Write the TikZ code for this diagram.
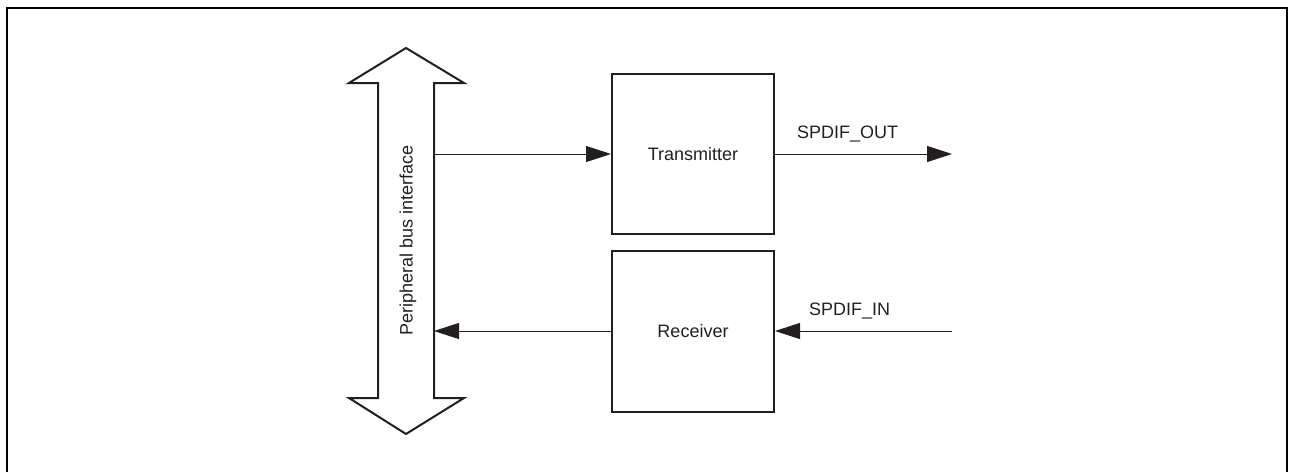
\documentclass[tikz,border=0pt]{standalone}
\usepackage{fontspec}
\setmainfont{Liberation Sans}
\usetikzlibrary{arrows.meta}
\definecolor{ink}{HTML}{231F20}
\begin{document}
\begin{tikzpicture}[x=1pt,y=-1pt,
  every node/.style={font=\fontsize{18}{21}\selectfont, text=ink},
  blockbox/.style={draw=ink, line width=2pt, minimum width=162pt, minimum height=160pt, inner sep=0pt},
  wire/.style={draw=ink, line width=1pt},
  tip/.style={-{Triangle[length=25pt,width=16pt]}},
  frameline/.style={draw=black, line width=2pt},
  busline/.style={draw=ink, line width=2pt, line join=miter}]
\useasboundingbox (0,0) rectangle (1289,472);
% frame
\draw[frameline] (7,472) -- (7,7.5) -- (1287,7.5) -- (1287,472);
% bus arrow
\draw[busline] (406,48) -- (464,83) -- (434,83) -- (434,398) -- (464,398) -- (406,434)
  -- (349,398) -- (378,398) -- (378,83) -- (349,83) -- cycle;
\node[rotate=90] (bus) at (408,240.5) {Peripheral bus interface};
\coordinate (busTx) at (434,154);
\coordinate (busRx) at (434,331);
% blocks
\node[blockbox] (tx) at (693,154) {Transmitter};
\node[blockbox, minimum height=161pt] (rx) at (693,331.5) {Receiver};
% connectors
\coordinate (outEnd) at (952,154);
\coordinate (inStart) at (952,331);
\draw[wire, tip] (busTx) -- (tx.west |- busTx);
\draw[wire, tip] (rx.west |- busRx) -- (busRx);
\draw[wire, tip] (tx.east |- outEnd) -- (outEnd);
\draw[wire, tip] (inStart) -- (rx.east |- inStart);
% labels
\node (outlbl) at (847.5,134) {SPDIF\_OUT};
\node (inlbl) at (849.5,311) {SPDIF\_IN};
\end{tikzpicture}
\end{document}
